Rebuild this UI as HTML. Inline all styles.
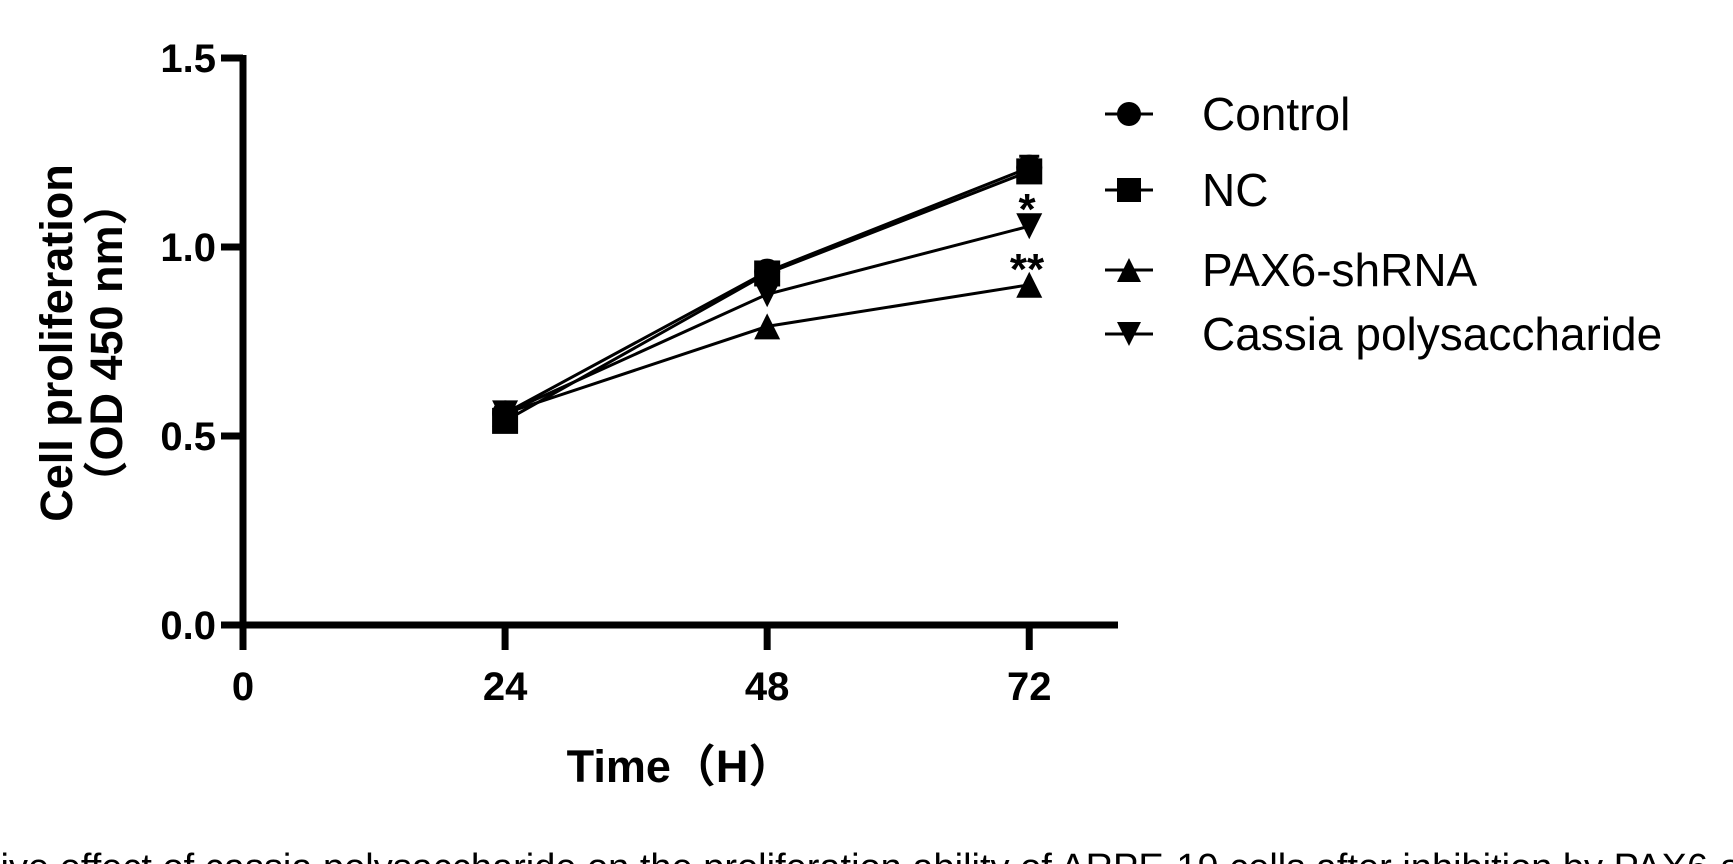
<!DOCTYPE html>
<html><head><meta charset="utf-8"><style>
html,body{margin:0;padding:0;background:#fff;}
svg{display:block;}
text{font-family:"Liberation Sans",Arial,"Noto Sans CJK SC",sans-serif;}
</style></head><body>
<svg id="chart" width="1733" height="864" viewBox="0 0 1733 864" xmlns="http://www.w3.org/2000/svg">
<g id="axes"></g>
<g id="series"></g>
<g id="legend"></g>
<text transform="translate(72,343) rotate(-90)" text-anchor="middle" font-size="45" font-weight="bold">Cell proliferation</text>
<text transform="translate(122,343) rotate(-90)" text-anchor="middle" font-size="45" font-weight="bold">（OD 450 nm）</text>
<text x="680" y="782" text-anchor="middle" font-size="45" font-weight="bold">Time（H）</text>
<text x="1027" y="224" text-anchor="middle" font-size="44" font-weight="bold">*</text>
<text x="1027" y="284" text-anchor="middle" font-size="44" font-weight="bold">**</text>
<text x="-10" y="880" font-family="Liberation Serif,serif" font-size="38">tive effect of cassia polysaccharide on the proliferation ability of ARPE-19 cells after inhibition by PAX6-shRNA</text>
</svg>
<script>
const xTicks=[0,24,48,72];
const yTicks=[0.0,0.5,1.0,1.5];
const yTickLabels=["0.0","0.5","1.0","1.5"];
const times=[24,48,72];
const seriesNames=["Control","NC","PAX6-shRNA","Cassia polysaccharide"];
const controlVals=[0.56,0.935,1.21];
const ncVals=[0.54,0.93,1.20];
const pax6Vals=[0.56,0.79,0.90];
const cassiaVals=[0.56,0.875,1.055];
const controlErr=[0.01,0.01,0.03];

const NS="http://www.w3.org/2000/svg";
const X0=243, XPH=10.92, Y0=625, YPU=378;
const xs=t=>X0+t*XPH;
const ys=v=>Y0-v*YPU;
function mk(tag,attrs,parent){const e=document.createElementNS(NS,tag);for(const k in attrs)e.setAttribute(k,attrs[k]);parent.appendChild(e);return e;}
const axes=document.getElementById('axes');
let el=mk('line',{x1:X0,y1:ys(1.5)-3,x2:X0,y2:Y0+3,stroke:'#000','stroke-width':7},axes);


el=mk('line',{x1:X0-3,y1:Y0,x2:1118,y2:Y0,stroke:'#000','stroke-width':7},axes);


yTicks.forEach((v,i)=>{
  const t=mk('line',{x1:221,y1:ys(v),x2:X0,y2:ys(v),stroke:'#000','stroke-width':7},axes);
  
  
  const l=mk('text',{x:216,y:ys(v)+14,'text-anchor':'end','font-size':40,'font-weight':'bold'},axes);
  l.textContent=yTickLabels[i];
  
  
});
xTicks.forEach(t=>{
  const tk=mk('line',{x1:xs(t),y1:Y0,x2:xs(t),y2:Y0+25,stroke:'#000','stroke-width':7},axes);
  
  
  const l=mk('text',{x:xs(t),y:700,'text-anchor':'middle','font-size':40,'font-weight':'bold'},axes);
  l.textContent=String(t);
  
  
});
function marker(kind,cx,cy,parent,s){
  s=s||12;
  if(kind==='circle')return mk('circle',{cx:cx,cy:cy,r:s,fill:'#000'},parent);
  if(kind==='square')return mk('rect',{x:cx-s,y:cy-s,width:2*s,height:2*s,fill:'#000'},parent);
  if(kind==='up')return mk('polygon',{points:`${cx},${cy-s} ${cx-s},${cy+s} ${cx+s},${cy+s}`,fill:'#000'},parent);
  return mk('polygon',{points:`${cx-s},${cy-s} ${cx+s},${cy-s} ${cx},${cy+s}`,fill:'#000'},parent);
}
const seriesData=[controlVals,ncVals,pax6Vals,cassiaVals];
const kinds=['circle','square','up','down'];
const sg=document.getElementById('series');
seriesData.forEach((vals,si)=>{
  const g=mk('g',{},sg);
  
  
  const pts=vals.map((v,i)=>xs(times[i])+','+ys(v)).join(' ');
  const pl=mk('polyline',{points:pts,fill:'none',stroke:'#000','stroke-width':3},g);
  
  
  vals.forEach((v,i)=>{
    const m=marker(kinds[si],xs(times[i]),ys(v),g,13);
    
    
  });
});
controlVals.forEach((v,i)=>{
  const e=controlErr[i];
  const eb=mk('path',{d:`M${xs(times[i])-10},${ys(v+e)}H${xs(times[i])+10}M${xs(times[i])},${ys(v+e)}V${ys(v)}`,stroke:'#000','stroke-width':3,fill:'none'},sg);
  
  
});
const lg=document.getElementById('legend');
const legY=[114,190,270,334];
seriesNames.forEach((n,i)=>{
  const g=mk('g',{},lg);
  
  
  mk('line',{x1:1105,y1:legY[i],x2:1153,y2:legY[i],stroke:'#000','stroke-width':3},g);
  marker(kinds[i],1129,legY[i],g,12);
  const t=mk('text',{x:1202,y:legY[i]+16,'font-size':46},g);
  t.textContent=n;
});
</script>
</body></html>
